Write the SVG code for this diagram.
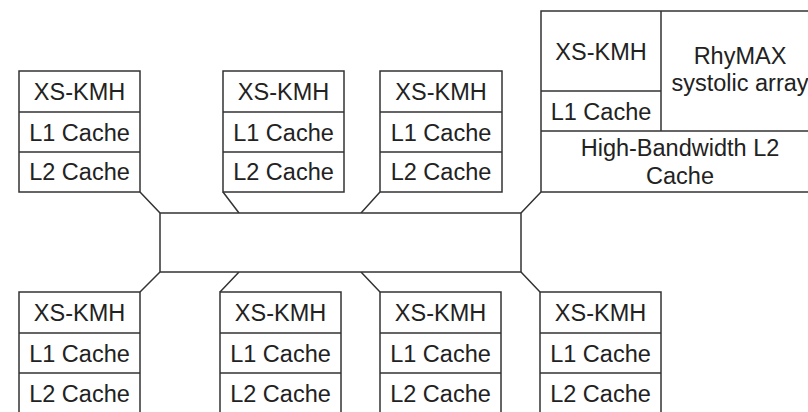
<svg xmlns="http://www.w3.org/2000/svg" width="808" height="412" viewBox="0 0 808 412">
<style>
.b{fill:#fff;stroke:#333;stroke-width:1.5}
.l{fill:none;stroke:#333;stroke-width:1.5}
text{font-family:"Liberation Sans",Arial,sans-serif;font-size:23.5px;fill:#222;text-anchor:middle}
</style>
<rect width="808" height="412" fill="#fff"/>
<g id="connectors">
<path class="l" d="M140,192 L160,213 M223,192 L239,213 M380,192 L361,213 M541,192 L521,213 M140,292 L160,272 M220,292 L239,272 M380,292 L361,272 M540,292 L521,272"/>
</g>
<g id="bus"><rect class="b" x="160" y="213" width="361" height="59"/></g>
<g id="core-t1"><rect class="b" x="19" y="71" width="121" height="121"/><path class="l" d="M19,112H140M19,152H140"/><text x="79.5" y="99.5">XS-KMH</text><text x="79.5" y="140.5">L1 Cache</text><text x="79.5" y="180">L2 Cache</text></g>
<g id="core-t2"><rect class="b" x="223" y="71" width="121" height="121"/><path class="l" d="M223,112H344M223,152H344"/><text x="283.5" y="99.5">XS-KMH</text><text x="283.5" y="140.5">L1 Cache</text><text x="283.5" y="180">L2 Cache</text></g>
<g id="core-t3"><rect class="b" x="380" y="71" width="122" height="121"/><path class="l" d="M380,112H502M380,152H502"/><text x="441" y="99.5">XS-KMH</text><text x="441" y="140.5">L1 Cache</text><text x="441" y="180">L2 Cache</text></g>
<g id="rhymax"><rect class="b" x="541" y="11" width="280" height="181"/><path class="l" d="M661,11V131M541,91H661M541,131H821"/><text x="601" y="60">XS-KMH</text><text x="601" y="120">L1 Cache</text><text x="740" y="64">RhyMAX</text><text x="740" y="91">systolic array</text><text x="680" y="156">High-Bandwidth L2</text><text x="680" y="184">Cache</text></g>
<g id="core-b1"><rect class="b" x="19" y="292" width="121" height="122"/><path class="l" d="M19,333H140M19,373H140"/><text x="79.5" y="320.5">XS-KMH</text><text x="79.5" y="361.5">L1 Cache</text><text x="79.5" y="401.5">L2 Cache</text></g>
<g id="core-b2"><rect class="b" x="220" y="292" width="121" height="122"/><path class="l" d="M220,333H341M220,373H341"/><text x="280.5" y="320.5">XS-KMH</text><text x="280.5" y="361.5">L1 Cache</text><text x="280.5" y="401.5">L2 Cache</text></g>
<g id="core-b3"><rect class="b" x="380" y="292" width="121" height="122"/><path class="l" d="M380,333H501M380,373H501"/><text x="440.5" y="320.5">XS-KMH</text><text x="440.5" y="361.5">L1 Cache</text><text x="440.5" y="401.5">L2 Cache</text></g>
<g id="core-b4"><rect class="b" x="540" y="292" width="121" height="122"/><path class="l" d="M540,333H661M540,373H661"/><text x="600.5" y="320.5">XS-KMH</text><text x="600.5" y="361.5">L1 Cache</text><text x="600.5" y="401.5">L2 Cache</text></g>
</svg>
